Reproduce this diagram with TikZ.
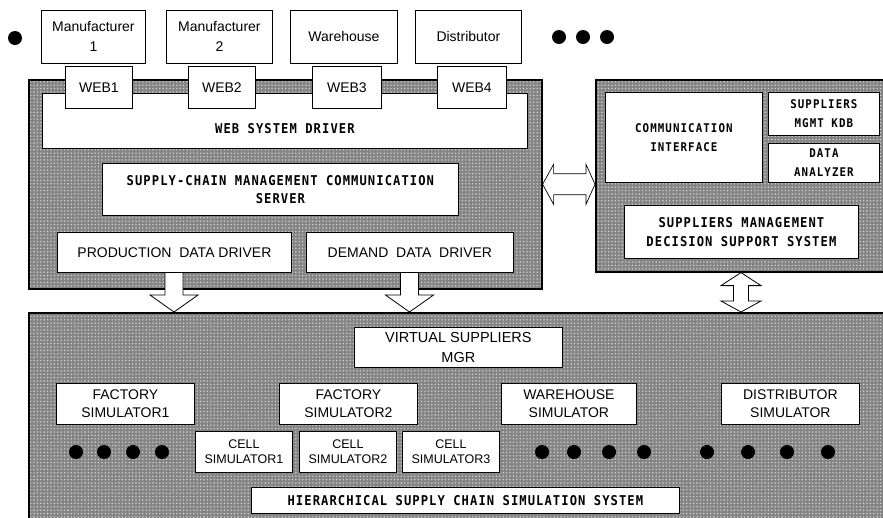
\documentclass[tikz,border=0pt]{standalone}
\usepackage{fontspec}
\setmainfont{Liberation Sans}
\newfontfamily\gothic[FakeStretch=0.9,LetterSpace=8]{DejaVu Sans Mono}
\newfontfamily\gothicsm[FakeStretch=0.9,LetterSpace=9]{DejaVu Sans Mono}
\usetikzlibrary{patterns,calc}

% fine screen of light dots used on the panels
\pgfdeclarepatternformonly{screendots}{\pgfqpoint{-1pt}{-1pt}}{\pgfqpoint{1pt}{1pt}}{\pgfqpoint{3.4pt}{3.4pt}}{%
  \pgfpathcircle{\pgfqpoint{0pt}{0pt}}{0.8pt}\pgfusepath{fill}}

\definecolor{panelgray}{HTML}{858585}
\definecolor{dotgray}{HTML}{D2D2D2}

\tikzset{
  panel/.style={draw=black, line width=1.6pt, preaction={fill=panelgray},
    pattern=screendots, pattern color=dotgray, inner sep=0pt},
  box/.style={draw=black, line width=0.8pt, fill=white, inner sep=0pt, align=center,
    font=\fontsize{14}{18}\selectfont},
  toprow/.style={font=\fontsize{14}{20}\selectfont},
  mono/.style={font=\gothic\bfseries\fontsize{13.5}{18.5}\selectfont},
  monosmall/.style={font=\gothicsm\bfseries\fontsize{12}{19}\selectfont},
  cellbox/.style={font=\fontsize{12.5}{15}\selectfont},
  blt/.style={circle, fill=black, inner sep=0pt, minimum size=14pt},
  blockarrow/.style={draw=black, line width=0.8pt, fill=white, line join=miter},
}

% box given by its top-left and bottom-right corners
\newcommand\rbox[7][]{%
  \node[box,#1,anchor=north west,
        minimum width={(#5-#3)*1pt}, minimum height={(#6-#4)*1pt}]
    (#2) at (#3,#4) {#7};}
% shaded panel given by its corners
\newcommand\rpanel[5]{%
  \node[panel,anchor=north west,
        minimum width={(#4-#2)*1pt}, minimum height={(#5-#3)*1pt}]
    (#1) at (#2,#3) {};}

\begin{document}
\begin{tikzpicture}[x=1pt,y=-1pt]
\useasboundingbox (0,0) rectangle (883,517);
\fill[white] (0,0) rectangle (883,517);
\clip (0,0) rectangle (883,517);

% ---- panels ----
\rpanel{scmpanel}{28}{79}{541}{288}
\rpanel{dsspanel}{595}{79}{890}{271}
\rpanel{simpanel}{28}{312}{890}{524}

% ---- block arrows between the panels ----
\coordinate (p1) at (57+117,272);
\coordinate (p2) at (306+103.5,272);
\draw[blockarrow] ($(p1)+(-9,0)$) -- ($(p1 |- simpanel.north)+(-9,-17)$)
  -- ($(p1 |- simpanel.north)+(-24,-17)$) -- (p1 |- simpanel.north)
  -- ($(p1 |- simpanel.north)+(24,-17)$) -- ($(p1 |- simpanel.north)+(9,-17)$)
  -- ($(p1)+(9,0)$);
\draw[blockarrow] ($(p2)+(-9,0)$) -- ($(p2 |- simpanel.north)+(-9,-17)$)
  -- ($(p2 |- simpanel.north)+(-24,-17)$) -- (p2 |- simpanel.north)
  -- ($(p2 |- simpanel.north)+(24,-17)$) -- ($(p2 |- simpanel.north)+(9,-17)$)
  -- ($(p2)+(9,0)$);

\coordinate (va) at (741,0 |- dsspanel.south);
\coordinate (vb) at (va |- simpanel.north);
\draw[blockarrow] (va) -- ($(va)+(20,13)$) -- ($(va)+(7.5,13)$) -- ($(vb)+(7.5,-11)$)
  -- ($(vb)+(20,-11)$) -- (vb) -- ($(vb)+(-20,-11)$) -- ($(vb)+(-7.5,-11)$)
  -- ($(va)+(-7.5,13)$) -- ($(va)+(-20,13)$) -- cycle;

\coordinate (hl) at (scmpanel.east);
\coordinate (hr) at (dsspanel.west |- scmpanel.east);
\draw[blockarrow, line width=0.7pt] (hl) -- ($(hl)+(11,-20)$) -- ($(hl)+(11,-10.5)$)
  -- ($(hr)+(-9,-10.5)$) -- ($(hr)+(-9,-20)$) -- (hr) -- ($(hr)+(-9,20)$)
  -- ($(hr)+(-9,10.5)$) -- ($(hl)+(11,10.5)$) -- ($(hl)+(11,20)$) -- cycle;

% ---- top row ----
\node[blt] (b0) at (15,38) {};
\rbox[toprow]{m1}{41}{10}{145}{63}{Manufacturer\\1}
\rbox[toprow]{m2}{166}{10}{272}{63}{Manufacturer\\2}
\rbox[toprow]{wh}{290}{10}{397}{63}{Warehouse}
\rbox[toprow]{dt}{415}{10}{521}{63}{Distributor}
\node[blt] (b1) at (559,37) {};
\node[blt] (b2) at (583,37) {};
\node[blt] (b3) at (607,37) {};

% ---- communication server panel ----
\rbox{driver}{42}{93}{527}{148}{}
\node[mono] (drvtxt) at ($(driver.center)+(0,8)$) {WEB SYSTEM DRIVER};
\rbox{web1}{65}{66}{132}{108}{WEB1}
\rbox{web2}{188}{66}{255}{108}{WEB2}
\rbox{web3}{312}{66}{381}{108}{WEB3}
\rbox{web4}{437}{66}{506}{108}{WEB4}
\rbox[mono]{scms}{102}{163}{458}{215}{SUPPLY-CHAIN MANAGEMENT COMMUNICATION\\SERVER}
\rbox{prod}{57}{232}{291}{272}{PRODUCTION\ \ DATA DRIVER}
\rbox{dem}{306}{232}{513}{272}{DEMAND\ \ DATA\ \ DRIVER}

% ---- decision support panel ----
\rbox[monosmall]{ci}{605}{92}{762}{182}{COMMUNICATION\\INTERFACE}
\rbox[monosmall]{kdb}{768}{92}{879}{135}{SUPPLIERS\\MGMT KDB}
\rbox[monosmall]{da}{768}{143}{879}{182}{DATA\\ANALYZER}
\rbox[mono]{dss}{624}{205}{858}{258}{SUPPLIERS MANAGEMENT\\DECISION SUPPORT SYSTEM}

% ---- simulation panel ----
\rbox[font=\fontsize{14.5}{20}\selectfont]{vsm}{354}{327}{562}{367}{VIRTUAL SUPPLIERS\\MGR}
\rbox{fs1}{56}{383}{194}{424}{FACTORY\\SIMULATOR1}
\rbox{fs2}{279}{383}{417}{424}{FACTORY\\SIMULATOR2}
\rbox{whs}{501}{383}{636}{424}{WAREHOUSE\\SIMULATOR}
\rbox{dis}{721}{383}{859}{424}{DISTRIBUTOR\\SIMULATOR}
\rbox[cellbox]{c1}{195}{431}{292}{472}{CELL\\SIMULATOR1}
\rbox[cellbox]{c2}{299}{431}{396}{472}{CELL\\SIMULATOR2}
\rbox[cellbox]{c3}{402}{431}{499}{472}{CELL\\SIMULATOR3}
\rbox[mono]{hier}{251}{487}{679}{513}{HIERARCHICAL SUPPLY CHAIN SIMULATION SYSTEM}

\foreach \x [count=\i] in {76,104,133,162}   {\node[blt] (fa\i) at (\x,452) {};}
\foreach \x [count=\i] in {542,574,609,644}  {\node[blt] (wa\i) at (\x,452) {};}
\foreach \x [count=\i] in {707,748,787,828}  {\node[blt] (di\i) at (\x,452) {};}
\end{tikzpicture}
\end{document}
